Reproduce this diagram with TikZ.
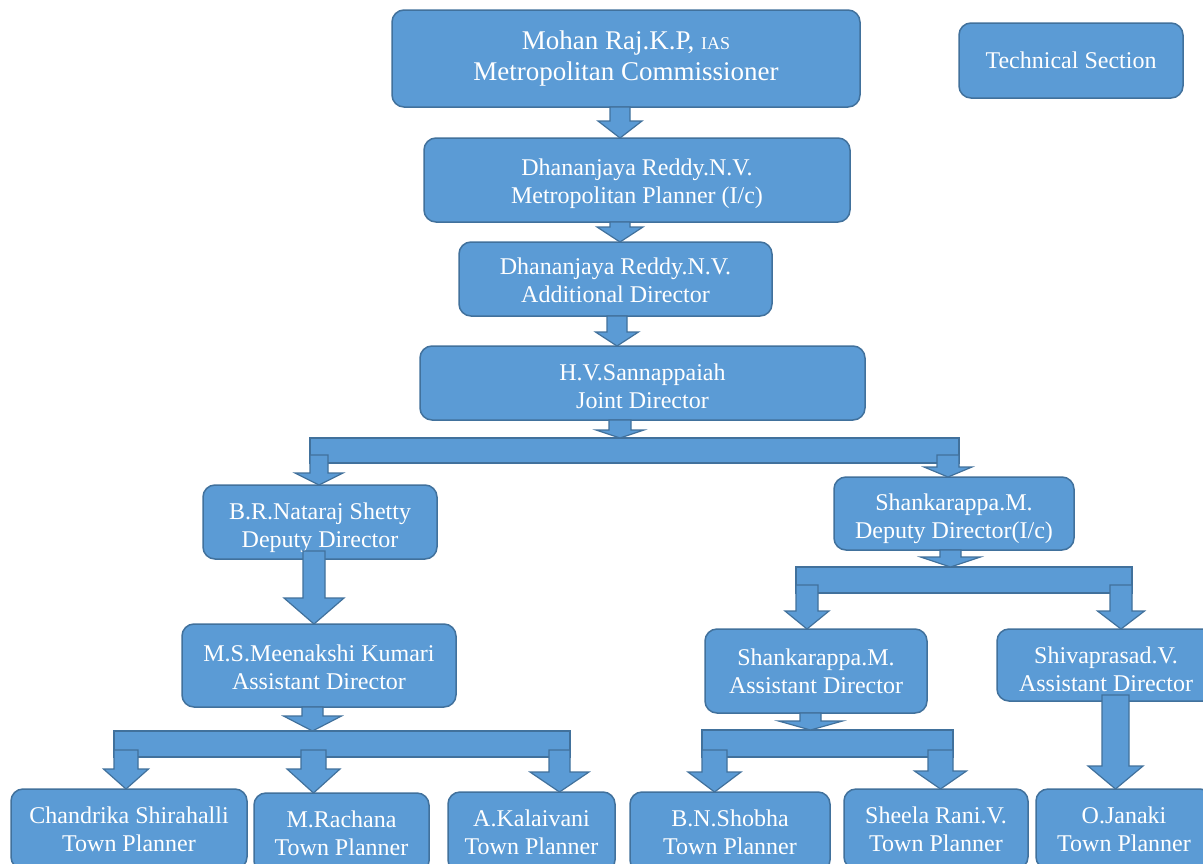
\documentclass[tikz,border=0pt]{standalone}
\usepackage{fontspec}
\setmainfont{Liberation Serif}
\usetikzlibrary{calc}
\definecolor{boxfill}{HTML}{5B9BD5}
\definecolor{boxline}{HTML}{41719C}
\tikzset{
  post/.style={draw=boxline, fill=boxfill, line width=1.5pt, rounded corners=12pt,
    text=white, align=center, inner sep=0pt, outer sep=0pt,
    font=\fontsize{24}{28}\selectfont},
  busbar/.style={draw=boxline, fill=boxfill, line width=1.5pt, inner sep=0pt, outer sep=0pt},
  flowarrow/.style={draw=boxline, fill=boxfill, line width=1.2pt, line join=miter},
}
% invisible strut that lowers a two-line caption inside its box
\newcommand\capdrop[1]{\rule{0pt}{#1}}
% #1 x of the arrow axis, #2 start point, #3 tip point,
% #4 shaft half width, #5 head half width, #6 head length
\newcommand\blockarrow[6]{%
  \path[flowarrow] let \p1=(#2), \p2=(#3) in
    (#1pt-#4pt,\y1) -- (#1pt+#4pt,\y1) -- (#1pt+#4pt,\y2+#6pt) -- (#1pt+#5pt,\y2+#6pt)
    -- (#1pt,\y2) -- (#1pt-#5pt,\y2+#6pt) -- (#1pt-#4pt,\y2+#6pt) -- cycle;}
\begin{document}
\begin{tikzpicture}[x=1pt,y=-1pt]
\useasboundingbox (0,0) rectangle (1203,863);
\fill[white] (0,0) rectangle (1203,863);
\clip (0,0) rectangle (1203,863);

% posts
\node[post, minimum width=468pt, minimum height=97pt,
      font=\fontsize{27}{31}\selectfont] (top) at (626,58.5)
  {Mohan Raj.K.P, {\fontsize{18}{20}\selectfont IAS}\\Metropolitan Commissioner};
\node[post, minimum width=224pt, minimum height=75pt] (tech) at (1071,60.5) {Technical Section};
\node[post, minimum width=426pt, minimum height=84pt] (mp) at (637,180)
  {\capdrop{24.5pt}Dhananjaya Reddy.N.V.\\Metropolitan Planner (I/c)};
\node[post, minimum width=313pt, minimum height=74pt] (ad) at (615.5,279)
  {\capdrop{19.5pt}Dhananjaya Reddy.N.V.\\Additional Director};
\node[post, minimum width=445pt, minimum height=74pt] (jd) at (642.5,383)
  {\capdrop{22.5pt}H.V.Sannappaiah\\Joint Director};
\node[post, minimum width=234pt, minimum height=74pt] (dd1) at (320,522)
  {\capdrop{28.5pt}B.R.Nataraj Shetty\\Deputy Director};
\node[post, minimum width=240pt, minimum height=73pt] (dd2) at (954,513.5)
  {\capdrop{26.5pt}Shankarappa.M.\\Deputy Director(I/c)};
\node[post, minimum width=274pt, minimum height=83pt] (ad1) at (319,665.5)
  {\capdrop{20.5pt}M.S.Meenakshi Kumari\\Assistant Director};
\node[post, minimum width=222pt, minimum height=84pt] (ad2) at (816,671)
  {Shankarappa.M.\\Assistant Director};
\node[post, minimum width=218pt, minimum height=72pt] (ad3) at (1106,665)
  {\capdrop{25.5pt}Shivaprasad.V.\\Assistant Director};
\node[post, minimum width=236pt, minimum height=80pt] (tp1) at (129,829)
  {Chandrika Shirahalli\\Town Planner};
\node[post, minimum width=175pt, minimum height=80pt] (tp2) at (341.5,833)
  {M.Rachana\\Town Planner};
\node[post, minimum width=167pt, minimum height=80pt] (tp3) at (531.5,832)
  {A.Kalaivani\\Town Planner};
\node[post, minimum width=200pt, minimum height=80pt] (tp4) at (730,832)
  {B.N.Shobha\\Town Planner};
\node[post, minimum width=184pt, minimum height=80pt] (tp5) at (936,829)
  {Sheela Rani.V.\\Town Planner};
\node[post, minimum width=176pt, minimum height=80pt] (tp6) at (1124,829)
  {O.Janaki\\Town Planner};

% distribution bars
\node[busbar, minimum width=649pt, minimum height=25pt] (bar1) at (634.5,450.5) {};
\node[busbar, minimum width=336pt, minimum height=26pt] (bar2) at (964,580) {};
\node[busbar, minimum width=251pt, minimum height=27pt] (bar3) at (827.5,743.5) {};
\node[busbar, minimum width=456pt, minimum height=26pt] (bar4) at (342,744) {};

% block arrows
\blockarrow{620}{top.south}{mp.north}{10}{22}{17}
\blockarrow{620}{mp.south}{ad.north}{10}{23}{15}
\blockarrow{617}{ad.south}{jd.north}{10}{21.5}{14}
\blockarrow{620}{jd.south}{bar1.north}{11}{24}{8}
\blockarrow{319}{$(bar1.south)+(0,-8)$}{dd1.north}{9}{24}{12}
\blockarrow{948}{$(bar1.south)+(0,-8)$}{dd2.north}{11}{24}{10}
\blockarrow{314}{$(dd1.south)+(0,-8)$}{ad1.north}{11}{30}{26}
\blockarrow{950.5}{dd2.south}{bar2.north}{10.5}{30}{10}
\blockarrow{807}{$(bar2.south)+(0,-8)$}{ad2.north}{11}{22}{18}
\blockarrow{1121}{$(bar2.south)+(0,-8)$}{ad3.north}{11}{23.5}{18}
\blockarrow{810.5}{ad2.south}{bar3.north}{10.5}{32}{9}
\blockarrow{714.5}{$(bar3.south)+(0,-7)$}{tp4.north}{12.5}{26.5}{20}
\blockarrow{940.5}{$(bar3.south)+(0,-7)$}{tp5.north}{12.5}{26}{18}
\blockarrow{1115.5}{$(ad3.south)+(0,-6)$}{tp6.north}{13.5}{27.5}{23}
\blockarrow{312.5}{ad1.south}{bar4.north}{10.5}{29}{15}
\blockarrow{126}{$(bar4.south)+(0,-7)$}{tp1.north}{12}{22.5}{20}
\blockarrow{313.5}{$(bar4.south)+(0,-7)$}{tp2.north}{12.5}{26.5}{24}
\blockarrow{559.5}{$(bar4.south)+(0,-7)$}{tp3.north}{10.5}{29.5}{20}
\end{tikzpicture}
\end{document}
